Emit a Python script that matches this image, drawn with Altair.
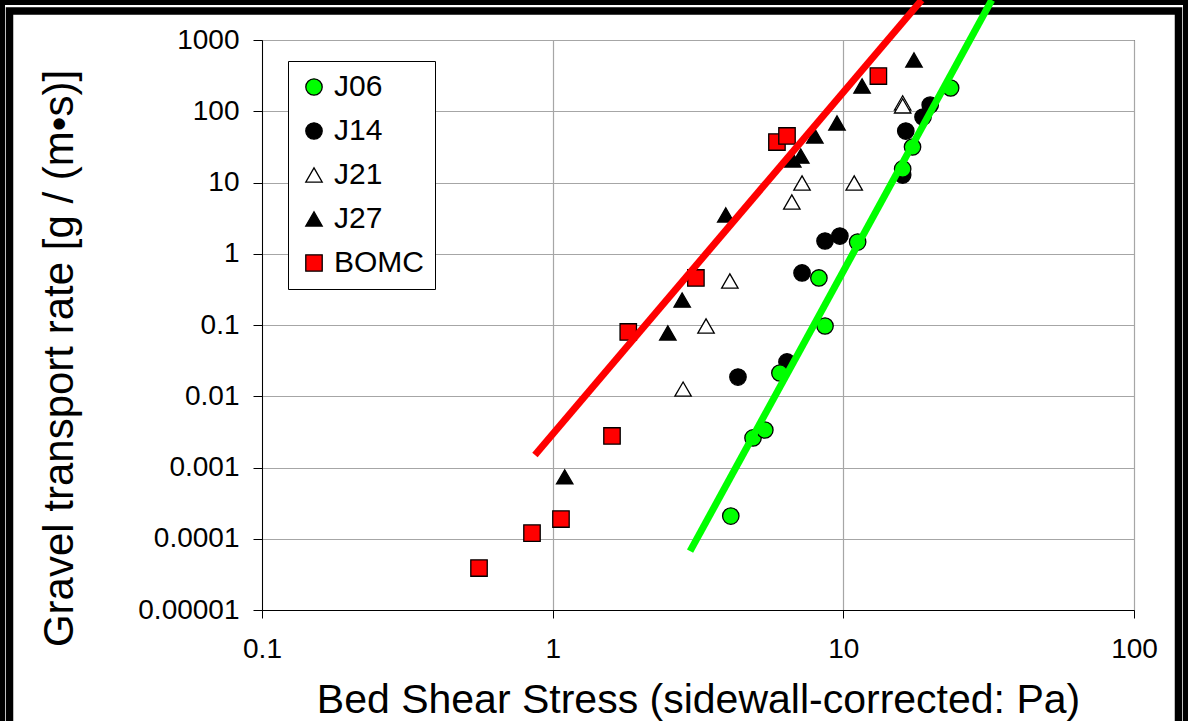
import altair as alt
import pandas as pd

# Bed shear stress (Pa) and gravel transport rate (g/(m*s)) per run
j06_tau = [4.10, 4.89, 5.37, 6.05, 8.24, 8.65, 11.2, 16.0, 17.3, 23.4]
j06_qs = [2.08e-4, 2.6e-3, 3.36e-3, 0.0212, 0.457, 0.0968, 1.46, 15.5, 31.5, 212]

j14_tau = [4.34, 6.40, 7.21, 8.65, 9.73, 16.0, 16.4, 18.8, 19.9]
j14_qs = [0.0186, 0.0303, 0.537, 1.51, 1.77, 12.7, 52.8, 83.0, 122]

j21_tau = [2.81, 3.37, 4.07, 6.65, 7.21, 10.9, 16.0, 16.0]
j21_qs = [0.0126, 0.0968, 0.415, 5.32, 9.84, 9.84, 131, 119]

j27_tau = [1.10, 2.49, 2.79, 3.94, 6.70, 7.14, 7.98, 9.51, 11.6, 17.5]
j27_qs = [7.4e-4, 0.0773, 0.224, 3.50, 20.7, 23.5, 45.0, 68.4, 226, 524]

bomc_tau = [0.558, 0.849, 1.068, 1.60, 1.82, 3.11, 5.91, 6.40, 13.2]
bomc_qs = [3.88e-5, 1.20e-4, 1.89e-4, 2.77e-3, 0.0798, 0.457, 37.0, 45.0, 312]

# Power-law fit lines (end points)
fit_bomc_tau = [0.869, 18.6]
fit_bomc_qs = [0.0015, 3640]
fit_j06_tau = [2.97, 32.4]
fit_j06_qs = [6.7e-5, 3640]

series_names = ["J06", "J14", "J21", "J27", "BOMC"]
series_fill = ["#00ff00", "#000000", "#ffffff", "#000000", "#ff0000"]
series_stroke = ["#000000", "#000000", "#000000", "#000000", "#000000"]
series_shape = ["circle", "circle", "triangle-up", "triangle-up", "square"]
series_size = [270, 270, 240, 240, 196]

x_ticks = [0.1, 1, 10, 100]
y_ticks = [1e-5, 1e-4, 1e-3, 1e-2, 0.1, 1, 10, 100, 1000]

FONT = "Liberation Sans"
W, H = 872, 570
LEFT, TOP = 262, 40

rows = []
# drawing order: J06 on top
for name, taus, qss in [("J14", j14_tau, j14_qs), ("J21", j21_tau, j21_qs),
                        ("J27", j27_tau, j27_qs), ("BOMC", bomc_tau, bomc_qs),
                        ("J06", j06_tau, j06_qs)]:
    for t, q in zip(taus, qss):
        rows.append({"series": name, "tau": t, "qs": q})
pts = pd.DataFrame(rows)

fits = pd.DataFrame(
    [{"fit": "BOMC", "tau": t, "qs": q} for t, q in zip(fit_bomc_tau, fit_bomc_qs)]
    + [{"fit": "J06", "tau": t, "qs": q} for t, q in zip(fit_j06_tau, fit_j06_qs)]
)

xscale = alt.Scale(type="log", domain=[0.1, 100], nice=False)
yscale = alt.Scale(type="log", domain=[1e-5, 1000], nice=False)

x_axis = alt.Axis(
    values=x_ticks, format="~g", title="Bed Shear Stress (sidewall-corrected: Pa)",
    titleFontSize=41, titleFont=FONT, titleFontWeight="normal", titleColor="black",
    titleBaseline="alphabetic", titleY=102,
    labelFontSize=28, labelFont=FONT, labelColor="black", labelPadding=17,
    tickSize=8, tickColor="black", domainColor="black",
    grid=True, gridColor="#a6a6a6", gridWidth=1.2, labelFlush=False,
)
y_axis = alt.Axis(
    values=y_ticks, format="~g", title="Gravel transport rate [g / (m•s)]",
    titleFontSize=42, titleFont=FONT, titleFontWeight="normal", titleColor="black",
    titleBaseline="alphabetic", titleX=-190, titleY=318, titleAngle=-90,
    labelFontSize=28, labelFont=FONT, labelColor="black", labelPadding=14,
    tickSize=9, tickColor="black", domainColor="black",
    grid=True, gridColor="#a6a6a6", gridWidth=1.2, labelFlush=False,
)

frame_src = pd.DataFrame({"k": [0]})
outer = alt.Chart(frame_src).mark_rect(fill=None, stroke="black", strokeWidth=5).encode(
    x=alt.value(2.5 - LEFT), x2=alt.value(1188 - 2.5 - LEFT),
    y=alt.value(2.5 - TOP), y2=alt.value(800),
)
inner = alt.Chart(frame_src).mark_rect(fill=None, stroke="black", strokeWidth=7.5).encode(
    x=alt.value(9.5 - LEFT), x2=alt.value(1188 - 9.5 - LEFT),
    y=alt.value(11 - TOP), y2=alt.value(800),
)

legend = alt.Legend(title=None)
points = alt.Chart(pts).mark_point(filled=True, strokeWidth=1.3, opacity=1).encode(
    x=alt.X("tau:Q", scale=xscale, axis=x_axis),
    y=alt.Y("qs:Q", scale=yscale, axis=y_axis),
    shape=alt.Shape("series:N", scale=alt.Scale(domain=series_names, range=series_shape),
                    legend=legend),
    fill=alt.Fill("series:N", scale=alt.Scale(domain=series_names, range=series_fill),
                  legend=legend),
    stroke=alt.Stroke("series:N", scale=alt.Scale(domain=series_names, range=series_stroke),
                      legend=legend),
    size=alt.Size("series:N", scale=alt.Scale(domain=series_names, range=series_size),
                  legend=legend),
)

lines = alt.Chart(fits).mark_line(strokeWidth=7, strokeCap="butt").encode(
    x=alt.X("tau:Q", scale=xscale),
    y=alt.Y("qs:Q", scale=yscale),
    detail="fit:N",
    color=alt.Color("fit:N", scale=alt.Scale(domain=["BOMC", "J06"], range=["#ff0000", "#00ff00"]),
                    legend=None),
)

chart = alt.layer(outer, inner, points, lines).properties(
    width=W, height=H,
    autosize=alt.AutoSizeParams(type="none"),
    padding={"left": LEFT, "top": TOP, "right": 1188 - LEFT - W, "bottom": 721 - TOP - H},
    background="white",
).configure_view(
    stroke="black", strokeWidth=1
).configure_legend(
    orient="none", legendX=26, legendY=21,
    padding=11, strokeColor="black", fillColor="white", strokeWidth=1,
    labelFont=FONT, labelFontSize=30, labelColor="black", labelOffset=5,
    rowPadding=14, symbolStrokeWidth=1.3,
    cornerRadius=0,
)

chart.save("out.html", embed_options={"renderer": "svg", "actions": False})
